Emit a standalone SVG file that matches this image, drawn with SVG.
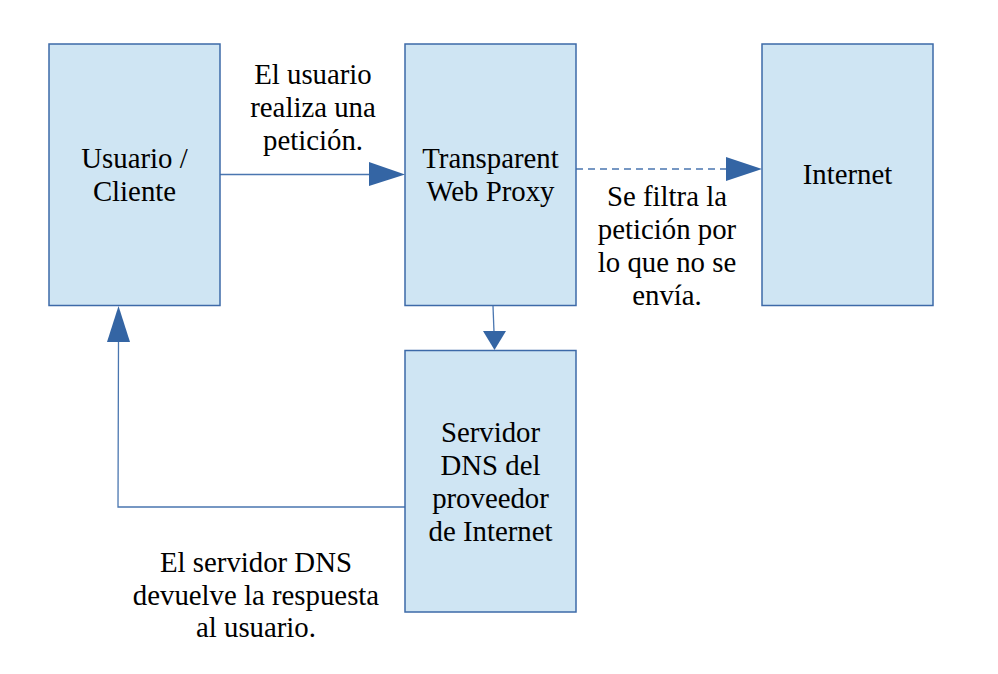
<svg xmlns="http://www.w3.org/2000/svg" width="998" height="674" viewBox="0 0 998 674">
<style>
.box{fill:#cfe5f3;stroke:#3d6aa8;stroke-width:1.5}
.ln{fill:none;stroke:#4a76b0;stroke-width:1.3}
.ah{fill:#3465a4}
text{font-family:"Liberation Serif","Times New Roman",serif;font-size:28.8px;fill:#000;text-anchor:middle}
</style>
<rect width="998" height="674" fill="#fff"/>
<g id="connectors">
<line class="ln" x1="220" y1="174.5" x2="370" y2="174.5"/>
<polygon class="ah" points="369,162 405,174.5 369,186"/>
<line class="ln" x1="576" y1="169" x2="727" y2="169" stroke-dasharray="7,5"/>
<polygon class="ah" points="726,157 762,169 726,181"/>
<line class="ln" x1="493" y1="306" x2="494" y2="332"/>
<polygon class="ah" points="483,331 506,331 494.5,350"/>
<polyline class="ln" points="405,507 118,507 118.5,341"/>
<polygon class="ah" points="107,342 130,342 118.5,306"/>
</g>
<g id="usuario">
<rect class="box" x="49" y="44" width="171" height="261.5"/>
<text x="134.5" y="167.5">Usuario /</text>
<text x="134.5" y="200.5">Cliente</text>
</g>
<g id="proxy">
<rect class="box" x="405" y="44" width="171" height="261.5"/>
<text x="490.5" y="167.5">Transparent</text>
<text x="490.5" y="200.5">Web Proxy</text>
</g>
<g id="internet">
<rect class="box" x="762" y="44" width="171" height="261.5"/>
<text x="847.5" y="184">Internet</text>
</g>
<g id="dns">
<rect class="box" x="405" y="350.5" width="171" height="261.5"/>
<text x="490.5" y="441.5">Servidor</text>
<text x="490.5" y="474.5">DNS del</text>
<text x="490.5" y="507.5">proveedor</text>
<text x="490.5" y="540.5">de Internet</text>
</g>
<g id="labels">
<text x="313" y="83.5">El usuario</text>
<text x="313" y="116.5">realiza una</text>
<text x="313" y="149.5">petición.</text>
<text x="667" y="205.5">Se filtra la</text>
<text x="667" y="238.5">petición por</text>
<text x="667" y="271.5">lo que no se</text>
<text x="667" y="304.5">envía.</text>
<text x="256" y="571.5">El servidor DNS</text>
<text x="256" y="604.5">devuelve la respuesta</text>
<text x="256" y="637">al usuario.</text>
</g>
</svg>
